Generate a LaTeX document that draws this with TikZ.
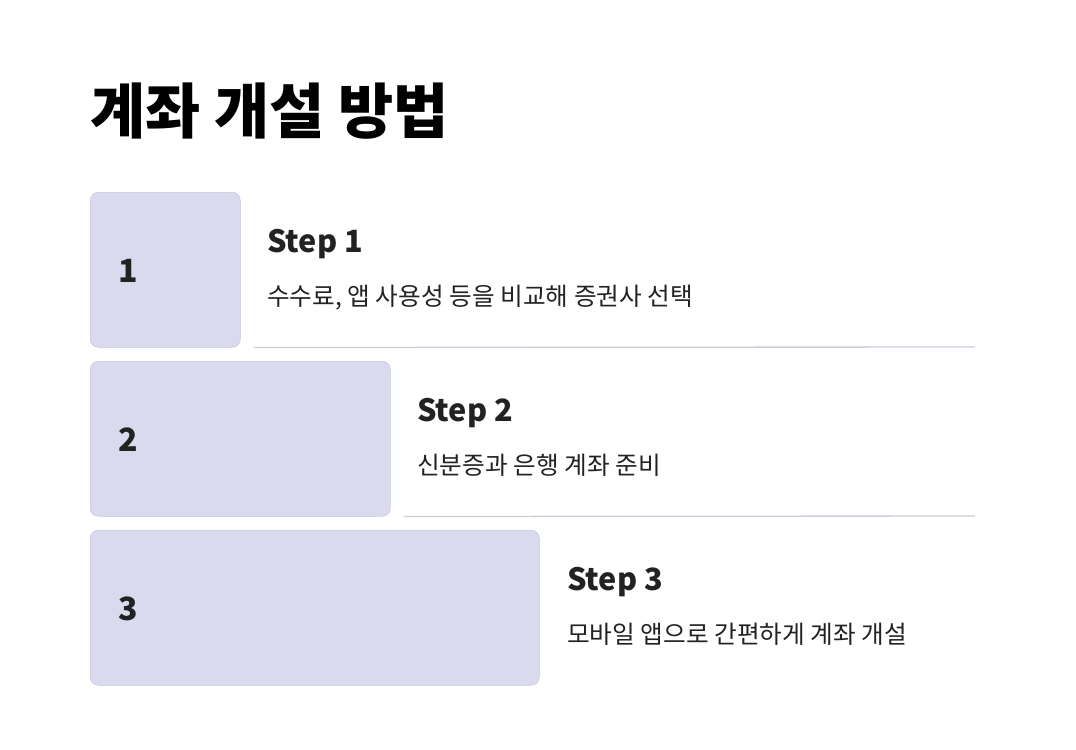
\documentclass[tikz,border=0pt]{standalone}
\usepackage{fontspec}
\setmainfont{Noto Sans CJK KR}
\definecolor{boxfill}{HTML}{DADAEE}
\definecolor{boxline}{HTML}{C6C6DE}
\definecolor{sepline}{HTML}{CDCDD8}
\definecolor{ink}{HTML}{222222}
\begin{document}
\begin{tikzpicture}[x=0.75pt, y=-0.75pt,
    stepbox/.style={rectangle, draw=boxline, fill=boxfill, rounded corners=6pt, anchor=north west, minimum height=116.25pt, inner sep=0pt},
    num/.style={anchor=base west, inner sep=0pt, text=ink, font=\fontsize{24}{28}\selectfont\bfseries},
    head/.style={anchor=base west, inner sep=0pt, text=ink, font=\fontsize{23}{28}\selectfont\bfseries},
    desc/.style={anchor=base west, inner sep=0pt, text=ink, font=\fontsize{18.5}{22}\selectfont},
    sep/.style={draw=sepline, line width=1pt}
]
    \useasboundingbox (0,0) rectangle (1076,750);
    \node[anchor=base west, inner sep=0pt, font=\fontsize{45}{50}\selectfont\bfseries] (title) at (90,133) {계좌 개설 방법};

    % Step 1
    \node[stepbox, minimum width=112.5pt] (box1) at (90,192) {};
    \node[num] (num1) at (118,282) {1};
    \node[head] (head1) at (267,252) {Step 1};
    \node[desc] (desc1) at (267,305) {수수료, 앱 사용성 등을 비교해 증권사 선택};
    \draw[sep] ([xshift=9.75pt]box1.south east) -- (975,347);

    % Step 2
    \node[stepbox, minimum width=225pt] (box2) at (90,361) {};
    \node[num] (num2) at (118,451) {2};
    \node[head] (head2) at (417,421) {Step 2};
    \node[desc] (desc2) at (417,474) {신분증과 은행 계좌 준비};
    \draw[sep] ([xshift=9.75pt]box2.south east) -- (975,516);

    % Step 3
    \node[stepbox, minimum width=336.75pt] (box3) at (90,530) {};
    \node[num] (num3) at (118,620) {3};
    \node[head] (head3) at (567,590) {Step 3};
    \node[desc] (desc3) at (567,643) {모바일 앱으로 간편하게 계좌 개설};
\end{tikzpicture}
\end{document}
